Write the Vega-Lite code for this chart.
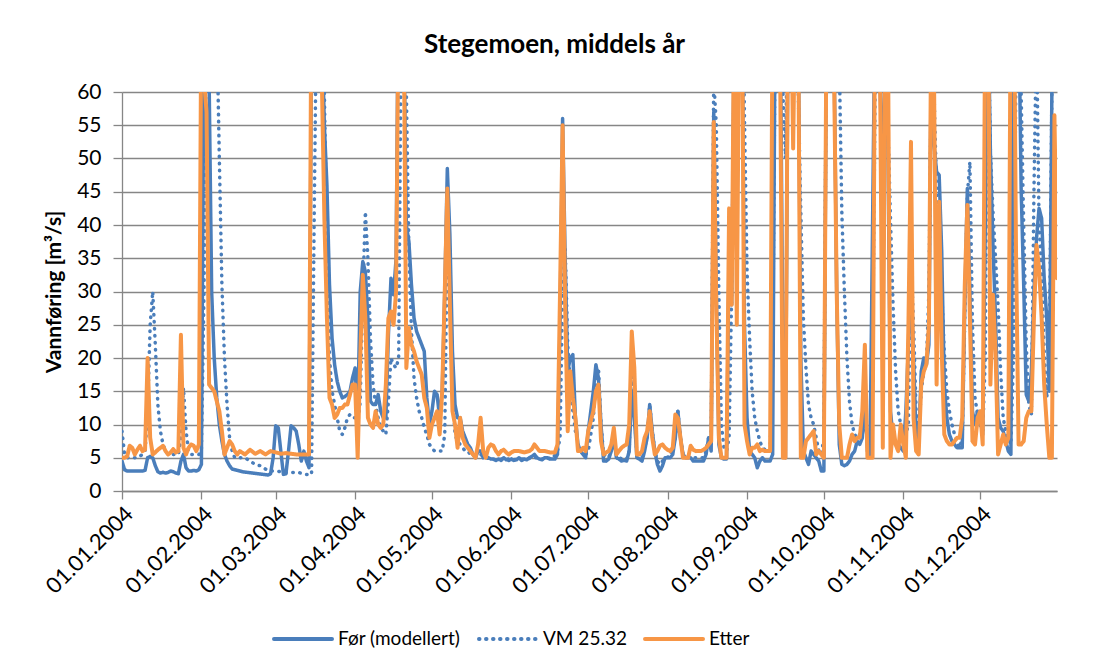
{
 "$schema": "https://vega.github.io/schema/vega-lite/v6.json",
 "width": 935,
 "height": 399,
 "autosize": {"type": "none"},
 "padding": {"left": 122, "top": 92, "right": 45, "bottom": 178},
 "background": "white",
 "config": {"font": "Lato", "view": {"stroke": null}, "axis": {"labelFont": "Lato", "titleFont": "Lato"}},
 "title": {"text": "Stegemoen, middels år", "fontSize": 26, "fontWeight": "bold", "font": "Lato", "color": "#000", "anchor": "middle", "dx": -35, "offset": 23},
 "data": {"values": [
{"s":"f","t":0,"v":4.5},{"s":"f","t":1,"v":3.2},{"s":"f","t":2,"v":3.0},{"s":"f","t":4,"v":3.0},{"s":"f","t":6,"v":3.0},{"s":"f","t":8,"v":3.0},{"s":"f","t":9,"v":3.1},{"s":"f","t":10,"v":5},{"s":"f","t":11,"v":5.2},{"s":"f","t":12,"v":5},{"s":"f","t":13,"v":3.8},{"s":"f","t":14,"v":2.9},{"s":"f","t":15,"v":2.7},{"s":"f","t":16,"v":2.8},{"s":"f","t":17,"v":2.7},{"s":"f","t":18,"v":2.8},{"s":"f","t":19,"v":3.0},{"s":"f","t":20,"v":2.9},{"s":"f","t":21,"v":2.7},{"s":"f","t":22,"v":2.6},{"s":"f","t":23,"v":4.5},{"s":"f","t":24,"v":5.5},{"s":"f","t":25,"v":3.5},{"s":"f","t":26,"v":3.0},{"s":"f","t":27,"v":3.0},{"s":"f","t":28,"v":3.1},{"s":"f","t":29,"v":3.0},{"s":"f","t":30,"v":3.2},{"s":"f","t":31,"v":4},{"s":"f","t":32,"v":70},{"s":"f","t":33,"v":80},{"s":"f","t":34,"v":62},{"s":"f","t":35,"v":30},{"s":"f","t":36,"v":20},{"s":"f","t":37,"v":14},{"s":"f","t":38,"v":10},{"s":"f","t":39,"v":7.5},{"s":"f","t":40,"v":5.5},{"s":"f","t":41,"v":4.5},{"s":"f","t":42,"v":3.8},{"s":"f","t":43,"v":3.3},{"s":"f","t":44,"v":3.2},{"s":"f","t":45,"v":3.1},{"s":"f","t":47,"v":2.9},{"s":"f","t":49,"v":2.8},{"s":"f","t":51,"v":2.7},{"s":"f","t":53,"v":2.6},{"s":"f","t":55,"v":2.5},{"s":"f","t":57,"v":2.4},{"s":"f","t":58,"v":2.6},{"s":"f","t":59,"v":5},{"s":"f","t":60,"v":9.8},{"s":"f","t":61,"v":9.5},{"s":"f","t":62,"v":6},{"s":"f","t":63,"v":2.5},{"s":"f","t":64,"v":2.6},{"s":"f","t":65,"v":6},{"s":"f","t":66,"v":9.8},{"s":"f","t":67,"v":9.5},{"s":"f","t":68,"v":9},{"s":"f","t":69,"v":7},{"s":"f","t":70,"v":4.5},{"s":"f","t":71,"v":6},{"s":"f","t":72,"v":4.5},{"s":"f","t":73,"v":3.5},{"s":"f","t":74,"v":70},{"s":"f","t":75,"v":85},{"s":"f","t":76,"v":90},{"s":"f","t":77,"v":85},{"s":"f","t":78,"v":70},{"s":"f","t":79,"v":55},{"s":"f","t":80,"v":46},{"s":"f","t":81,"v":31},{"s":"f","t":82,"v":23},{"s":"f","t":83,"v":19},{"s":"f","t":84,"v":16.5},{"s":"f","t":85,"v":15},{"s":"f","t":86,"v":14},{"s":"f","t":87,"v":14.2},{"s":"f","t":88,"v":14.5},{"s":"f","t":89,"v":15},{"s":"f","t":90,"v":17},{"s":"f","t":91,"v":18.5},{"s":"f","t":92,"v":11},{"s":"f","t":93,"v":30},{"s":"f","t":94,"v":34.5},{"s":"f","t":95,"v":33},{"s":"f","t":96,"v":26},{"s":"f","t":97,"v":13.5},{"s":"f","t":98,"v":13},{"s":"f","t":99,"v":13},{"s":"f","t":100,"v":14.5},{"s":"f","t":101,"v":12},{"s":"f","t":102,"v":11},{"s":"f","t":103,"v":11},{"s":"f","t":104,"v":23.5},{"s":"f","t":105,"v":32},{"s":"f","t":106,"v":29.5},{"s":"f","t":107,"v":35},{"s":"f","t":108,"v":80},{"s":"f","t":109,"v":85},{"s":"f","t":110,"v":70},{"s":"f","t":111,"v":40},{"s":"f","t":112,"v":37.5},{"s":"f","t":113,"v":31},{"s":"f","t":114,"v":26},{"s":"f","t":115,"v":24},{"s":"f","t":116,"v":23},{"s":"f","t":117,"v":22},{"s":"f","t":118,"v":21},{"s":"f","t":119,"v":14},{"s":"f","t":120,"v":10},{"s":"f","t":121,"v":12},{"s":"f","t":122,"v":15},{"s":"f","t":123,"v":14.5},{"s":"f","t":124,"v":11},{"s":"f","t":125,"v":15},{"s":"f","t":126,"v":30},{"s":"f","t":127,"v":48.5},{"s":"f","t":128,"v":38.5},{"s":"f","t":129,"v":21},{"s":"f","t":130,"v":13},{"s":"f","t":131,"v":11},{"s":"f","t":132,"v":11},{"s":"f","t":133,"v":9},{"s":"f","t":134,"v":8},{"s":"f","t":135,"v":7},{"s":"f","t":136,"v":6.5},{"s":"f","t":137,"v":5.5},{"s":"f","t":138,"v":5},{"s":"f","t":139,"v":6},{"s":"f","t":140,"v":6},{"s":"f","t":141,"v":5},{"s":"f","t":142,"v":5.2},{"s":"f","t":143,"v":5},{"s":"f","t":144,"v":4.8},{"s":"f","t":145,"v":4.8},{"s":"f","t":146,"v":4.6},{"s":"f","t":147,"v":4.8},{"s":"f","t":148,"v":4.6},{"s":"f","t":149,"v":5},{"s":"f","t":150,"v":4.7},{"s":"f","t":151,"v":4.6},{"s":"f","t":152,"v":4.8},{"s":"f","t":153,"v":4.6},{"s":"f","t":154,"v":4.7},{"s":"f","t":155,"v":5},{"s":"f","t":156,"v":4.6},{"s":"f","t":157,"v":4.8},{"s":"f","t":158,"v":4.7},{"s":"f","t":159,"v":5},{"s":"f","t":160,"v":5.2},{"s":"f","t":161,"v":5.5},{"s":"f","t":162,"v":5},{"s":"f","t":163,"v":4.8},{"s":"f","t":164,"v":4.7},{"s":"f","t":165,"v":5},{"s":"f","t":166,"v":5},{"s":"f","t":167,"v":4.8},{"s":"f","t":168,"v":4.8},{"s":"f","t":169,"v":4.8},{"s":"f","t":170,"v":5.5},{"s":"f","t":171,"v":25},{"s":"f","t":172,"v":56},{"s":"f","t":173,"v":35},{"s":"f","t":174,"v":18},{"s":"f","t":175,"v":20},{"s":"f","t":176,"v":20.5},{"s":"f","t":177,"v":11},{"s":"f","t":178,"v":7},{"s":"f","t":179,"v":6},{"s":"f","t":180,"v":5.5},{"s":"f","t":181,"v":5},{"s":"f","t":182,"v":9},{"s":"f","t":183,"v":12},{"s":"f","t":184,"v":15},{"s":"f","t":185,"v":19},{"s":"f","t":186,"v":17},{"s":"f","t":187,"v":10},{"s":"f","t":188,"v":4.5},{"s":"f","t":189,"v":4.5},{"s":"f","t":190,"v":4.8},{"s":"f","t":191,"v":6},{"s":"f","t":192,"v":8},{"s":"f","t":193,"v":5},{"s":"f","t":194,"v":4.8},{"s":"f","t":195,"v":4.5},{"s":"f","t":196,"v":4.6},{"s":"f","t":197,"v":4.5},{"s":"f","t":198,"v":6},{"s":"f","t":199,"v":15},{"s":"f","t":200,"v":11},{"s":"f","t":201,"v":5},{"s":"f","t":202,"v":4.8},{"s":"f","t":203,"v":4.5},{"s":"f","t":204,"v":6},{"s":"f","t":205,"v":8},{"s":"f","t":206,"v":13},{"s":"f","t":207,"v":9},{"s":"f","t":208,"v":6},{"s":"f","t":209,"v":4},{"s":"f","t":210,"v":3},{"s":"f","t":211,"v":3.8},{"s":"f","t":212,"v":5},{"s":"f","t":213,"v":5},{"s":"f","t":214,"v":5},{"s":"f","t":215,"v":5.5},{"s":"f","t":216,"v":8},{"s":"f","t":217,"v":12},{"s":"f","t":218,"v":8},{"s":"f","t":219,"v":5.5},{"s":"f","t":220,"v":5},{"s":"f","t":221,"v":5},{"s":"f","t":222,"v":5},{"s":"f","t":223,"v":4.5},{"s":"f","t":224,"v":4.5},{"s":"f","t":225,"v":4.5},{"s":"f","t":226,"v":4.5},{"s":"f","t":227,"v":4.5},{"s":"f","t":228,"v":5.5},{"s":"f","t":229,"v":8},{"s":"f","t":230,"v":6},{"s":"f","t":231,"v":57},{"s":"f","t":232,"v":30},{"s":"f","t":233,"v":7},{"s":"f","t":234,"v":5},{"s":"f","t":235,"v":4.8},{"s":"f","t":236,"v":4.8},{"s":"f","t":237,"v":35},{"s":"f","t":238,"v":28},{"s":"f","t":239,"v":70},{"s":"f","t":240,"v":40},{"s":"f","t":241,"v":70},{"s":"f","t":242,"v":75},{"s":"f","t":243,"v":25},{"s":"f","t":244,"v":11},{"s":"f","t":245,"v":6},{"s":"f","t":246,"v":5.5},{"s":"f","t":247,"v":5},{"s":"f","t":248,"v":3.5},{"s":"f","t":249,"v":4.5},{"s":"f","t":250,"v":5},{"s":"f","t":251,"v":4.5},{"s":"f","t":252,"v":4.5},{"s":"f","t":253,"v":4.5},{"s":"f","t":254,"v":5.5},{"s":"f","t":255,"v":75},{"s":"f","t":256,"v":80},{"s":"f","t":257,"v":70},{"s":"f","t":258,"v":20},{"s":"f","t":259,"v":5},{"s":"f","t":260,"v":70},{"s":"f","t":261,"v":80},{"s":"f","t":262,"v":60},{"s":"f","t":263,"v":80},{"s":"f","t":264,"v":70},{"s":"f","t":265,"v":20},{"s":"f","t":266,"v":6},{"s":"f","t":267,"v":5},{"s":"f","t":268,"v":4},{"s":"f","t":269,"v":6},{"s":"f","t":270,"v":5.5},{"s":"f","t":271,"v":5},{"s":"f","t":272,"v":4.5},{"s":"f","t":273,"v":3},{"s":"f","t":274,"v":3},{"s":"f","t":275,"v":70},{"s":"f","t":276,"v":85},{"s":"f","t":277,"v":75},{"s":"f","t":278,"v":65},{"s":"f","t":279,"v":30},{"s":"f","t":280,"v":7},{"s":"f","t":281,"v":4},{"s":"f","t":282,"v":3.8},{"s":"f","t":283,"v":4},{"s":"f","t":284,"v":4.5},{"s":"f","t":285,"v":5.5},{"s":"f","t":286,"v":6},{"s":"f","t":287,"v":7.5},{"s":"f","t":288,"v":7},{"s":"f","t":289,"v":8},{"s":"f","t":290,"v":15},{"s":"f","t":291,"v":6},{"s":"f","t":292,"v":5.5},{"s":"f","t":293,"v":40},{"s":"f","t":294,"v":75},{"s":"f","t":295,"v":80},{"s":"f","t":296,"v":60},{"s":"f","t":297,"v":45},{"s":"f","t":298,"v":70},{"s":"f","t":299,"v":52},{"s":"f","t":300,"v":12},{"s":"f","t":301,"v":8},{"s":"f","t":302,"v":7},{"s":"f","t":303,"v":7},{"s":"f","t":304,"v":6.5},{"s":"f","t":305,"v":6},{"s":"f","t":306,"v":12},{"s":"f","t":307,"v":22},{"s":"f","t":308,"v":30},{"s":"f","t":309,"v":20},{"s":"f","t":310,"v":8},{"s":"f","t":311,"v":7},{"s":"f","t":312,"v":18},{"s":"f","t":313,"v":20},{"s":"f","t":314,"v":19},{"s":"f","t":315,"v":22},{"s":"f","t":316,"v":70},{"s":"f","t":317,"v":52},{"s":"f","t":318,"v":48},{"s":"f","t":319,"v":47.5},{"s":"f","t":320,"v":36},{"s":"f","t":321,"v":16},{"s":"f","t":322,"v":11},{"s":"f","t":323,"v":8.5},{"s":"f","t":324,"v":7.5},{"s":"f","t":325,"v":7},{"s":"f","t":326,"v":6.5},{"s":"f","t":327,"v":6.5},{"s":"f","t":328,"v":6.5},{"s":"f","t":329,"v":28},{"s":"f","t":330,"v":45.5},{"s":"f","t":331,"v":30},{"s":"f","t":332,"v":12},{"s":"f","t":333,"v":10},{"s":"f","t":334,"v":12},{"s":"f","t":335,"v":11},{"s":"f","t":336,"v":8.5},{"s":"f","t":337,"v":40},{"s":"f","t":338,"v":75},{"s":"f","t":339,"v":51},{"s":"f","t":340,"v":37},{"s":"f","t":341,"v":26},{"s":"f","t":342,"v":11},{"s":"f","t":343,"v":9.5},{"s":"f","t":344,"v":9},{"s":"f","t":345,"v":7.5},{"s":"f","t":346,"v":6},{"s":"f","t":347,"v":5.5},{"s":"f","t":348,"v":70},{"s":"f","t":349,"v":80},{"s":"f","t":350,"v":75},{"s":"f","t":351,"v":45.5},{"s":"f","t":352,"v":31},{"s":"f","t":353,"v":14.5},{"s":"f","t":354,"v":13.5},{"s":"f","t":355,"v":18},{"s":"f","t":356,"v":30},{"s":"f","t":357,"v":38},{"s":"f","t":358,"v":42.5},{"s":"f","t":359,"v":41},{"s":"f","t":360,"v":32},{"s":"f","t":361,"v":26},{"s":"f","t":362,"v":15},{"s":"f","t":363,"v":60},{"s":"f","t":364,"v":75},{"s":"f","t":365,"v":62},
{"s":"v","t":0,"v":9},{"s":"v","t":1,"v":5.5},{"s":"v","t":2,"v":5},{"s":"v","t":4,"v":5},{"s":"v","t":6,"v":5},{"s":"v","t":8,"v":5.5},{"s":"v","t":9,"v":6},{"s":"v","t":10,"v":12},{"s":"v","t":11,"v":25},{"s":"v","t":12,"v":30},{"s":"v","t":13,"v":22},{"s":"v","t":14,"v":13},{"s":"v","t":15,"v":9},{"s":"v","t":16,"v":7},{"s":"v","t":17,"v":6},{"s":"v","t":18,"v":5.5},{"s":"v","t":20,"v":5.5},{"s":"v","t":22,"v":5.5},{"s":"v","t":23,"v":8},{"s":"v","t":24,"v":15.5},{"s":"v","t":25,"v":9},{"s":"v","t":26,"v":6},{"s":"v","t":27,"v":5.5},{"s":"v","t":29,"v":5.5},{"s":"v","t":30,"v":5.5},{"s":"v","t":31,"v":6},{"s":"v","t":32,"v":30},{"s":"v","t":33,"v":75},{"s":"v","t":34,"v":85},{"s":"v","t":35,"v":85},{"s":"v","t":36,"v":80},{"s":"v","t":37,"v":70},{"s":"v","t":38,"v":50},{"s":"v","t":39,"v":31},{"s":"v","t":40,"v":20},{"s":"v","t":41,"v":13},{"s":"v","t":42,"v":8},{"s":"v","t":43,"v":6},{"s":"v","t":44,"v":5},{"s":"v","t":46,"v":5},{"s":"v","t":48,"v":5},{"s":"v","t":50,"v":4.5},{"s":"v","t":52,"v":4},{"s":"v","t":54,"v":3.8},{"s":"v","t":56,"v":3.3},{"s":"v","t":58,"v":3},{"s":"v","t":60,"v":3},{"s":"v","t":62,"v":2.9},{"s":"v","t":64,"v":2.8},{"s":"v","t":66,"v":2.8},{"s":"v","t":68,"v":2.8},{"s":"v","t":70,"v":2.7},{"s":"v","t":72,"v":2.5},{"s":"v","t":74,"v":2.5},{"s":"v","t":75,"v":40},{"s":"v","t":76,"v":75},{"s":"v","t":77,"v":85},{"s":"v","t":78,"v":80},{"s":"v","t":79,"v":60},{"s":"v","t":80,"v":35},{"s":"v","t":81,"v":20},{"s":"v","t":82,"v":15},{"s":"v","t":83,"v":13},{"s":"v","t":84,"v":11},{"s":"v","t":85,"v":9},{"s":"v","t":86,"v":8.5},{"s":"v","t":87,"v":9.5},{"s":"v","t":88,"v":11},{"s":"v","t":89,"v":11.5},{"s":"v","t":90,"v":11},{"s":"v","t":91,"v":11},{"s":"v","t":92,"v":10},{"s":"v","t":93,"v":13.5},{"s":"v","t":94,"v":30},{"s":"v","t":95,"v":42},{"s":"v","t":96,"v":35},{"s":"v","t":97,"v":23},{"s":"v","t":98,"v":16},{"s":"v","t":99,"v":13},{"s":"v","t":100,"v":11},{"s":"v","t":101,"v":9.5},{"s":"v","t":102,"v":9},{"s":"v","t":103,"v":8.5},{"s":"v","t":104,"v":13.5},{"s":"v","t":105,"v":20},{"s":"v","t":106,"v":19},{"s":"v","t":107,"v":18.5},{"s":"v","t":108,"v":20},{"s":"v","t":109,"v":70},{"s":"v","t":110,"v":85},{"s":"v","t":111,"v":60},{"s":"v","t":112,"v":36},{"s":"v","t":113,"v":24},{"s":"v","t":114,"v":17},{"s":"v","t":115,"v":14},{"s":"v","t":116,"v":12},{"s":"v","t":117,"v":11},{"s":"v","t":118,"v":9.5},{"s":"v","t":119,"v":8.5},{"s":"v","t":120,"v":7},{"s":"v","t":121,"v":6.5},{"s":"v","t":122,"v":6},{"s":"v","t":123,"v":6},{"s":"v","t":124,"v":6},{"s":"v","t":125,"v":6},{"s":"v","t":126,"v":8.5},{"s":"v","t":127,"v":40},{"s":"v","t":128,"v":30},{"s":"v","t":129,"v":15},{"s":"v","t":130,"v":8.5},{"s":"v","t":131,"v":7.5},{"s":"v","t":132,"v":7},{"s":"v","t":133,"v":6.5},{"s":"v","t":134,"v":6},{"s":"v","t":135,"v":6},{"s":"v","t":136,"v":5.5},{"s":"v","t":137,"v":5.5},{"s":"v","t":138,"v":5.2},{"s":"v","t":140,"v":5.5},{"s":"v","t":142,"v":5},{"s":"v","t":144,"v":4.8},{"s":"v","t":146,"v":4.7},{"s":"v","t":148,"v":4.8},{"s":"v","t":150,"v":4.8},{"s":"v","t":152,"v":4.8},{"s":"v","t":154,"v":4.7},{"s":"v","t":156,"v":4.8},{"s":"v","t":158,"v":4.8},{"s":"v","t":160,"v":5},{"s":"v","t":162,"v":5},{"s":"v","t":164,"v":4.8},{"s":"v","t":166,"v":5},{"s":"v","t":168,"v":4.8},{"s":"v","t":170,"v":6},{"s":"v","t":171,"v":8},{"s":"v","t":172,"v":30},{"s":"v","t":173,"v":36.5},{"s":"v","t":174,"v":22},{"s":"v","t":175,"v":16},{"s":"v","t":176,"v":12},{"s":"v","t":177,"v":9},{"s":"v","t":178,"v":7},{"s":"v","t":179,"v":6},{"s":"v","t":180,"v":5.5},{"s":"v","t":181,"v":5.5},{"s":"v","t":182,"v":6},{"s":"v","t":183,"v":8.5},{"s":"v","t":184,"v":11},{"s":"v","t":185,"v":16},{"s":"v","t":186,"v":18.5},{"s":"v","t":187,"v":10},{"s":"v","t":188,"v":5.5},{"s":"v","t":190,"v":5},{"s":"v","t":192,"v":7.5},{"s":"v","t":193,"v":5.5},{"s":"v","t":195,"v":4.8},{"s":"v","t":197,"v":4.8},{"s":"v","t":198,"v":6},{"s":"v","t":199,"v":21},{"s":"v","t":200,"v":12},{"s":"v","t":201,"v":5.5},{"s":"v","t":203,"v":5},{"s":"v","t":205,"v":8},{"s":"v","t":206,"v":13},{"s":"v","t":207,"v":9},{"s":"v","t":208,"v":6},{"s":"v","t":209,"v":4.5},{"s":"v","t":210,"v":4},{"s":"v","t":212,"v":5},{"s":"v","t":214,"v":5.2},{"s":"v","t":216,"v":8},{"s":"v","t":217,"v":12},{"s":"v","t":218,"v":8},{"s":"v","t":219,"v":5.5},{"s":"v","t":221,"v":5.2},{"s":"v","t":223,"v":5},{"s":"v","t":225,"v":5},{"s":"v","t":227,"v":5},{"s":"v","t":228,"v":6},{"s":"v","t":229,"v":8},{"s":"v","t":230,"v":7},{"s":"v","t":231,"v":62},{"s":"v","t":232,"v":55},{"s":"v","t":233,"v":30},{"s":"v","t":234,"v":10},{"s":"v","t":235,"v":6.5},{"s":"v","t":236,"v":6},{"s":"v","t":237,"v":8},{"s":"v","t":238,"v":30},{"s":"v","t":239,"v":65},{"s":"v","t":240,"v":75},{"s":"v","t":241,"v":80},{"s":"v","t":242,"v":85},{"s":"v","t":243,"v":56},{"s":"v","t":244,"v":33},{"s":"v","t":245,"v":23},{"s":"v","t":246,"v":15},{"s":"v","t":247,"v":11},{"s":"v","t":248,"v":9},{"s":"v","t":249,"v":7.5},{"s":"v","t":250,"v":6.5},{"s":"v","t":251,"v":6.2},{"s":"v","t":252,"v":6},{"s":"v","t":253,"v":6},{"s":"v","t":254,"v":20},{"s":"v","t":255,"v":70},{"s":"v","t":256,"v":85},{"s":"v","t":257,"v":80},{"s":"v","t":258,"v":60},{"s":"v","t":259,"v":50},{"s":"v","t":260,"v":75},{"s":"v","t":261,"v":85},{"s":"v","t":262,"v":85},{"s":"v","t":263,"v":80},{"s":"v","t":264,"v":60},{"s":"v","t":265,"v":42},{"s":"v","t":266,"v":26},{"s":"v","t":267,"v":18.5},{"s":"v","t":268,"v":13},{"s":"v","t":269,"v":11},{"s":"v","t":270,"v":10},{"s":"v","t":271,"v":8},{"s":"v","t":272,"v":6},{"s":"v","t":273,"v":5.5},{"s":"v","t":274,"v":8},{"s":"v","t":275,"v":70},{"s":"v","t":276,"v":85},{"s":"v","t":277,"v":85},{"s":"v","t":278,"v":80},{"s":"v","t":279,"v":80},{"s":"v","t":280,"v":65},{"s":"v","t":281,"v":42},{"s":"v","t":282,"v":30},{"s":"v","t":283,"v":20},{"s":"v","t":284,"v":13.5},{"s":"v","t":285,"v":10},{"s":"v","t":286,"v":8.5},{"s":"v","t":287,"v":8},{"s":"v","t":288,"v":8.5},{"s":"v","t":289,"v":8.5},{"s":"v","t":290,"v":10},{"s":"v","t":291,"v":8},{"s":"v","t":292,"v":7},{"s":"v","t":293,"v":20},{"s":"v","t":294,"v":60},{"s":"v","t":295,"v":80},{"s":"v","t":296,"v":85},{"s":"v","t":297,"v":85},{"s":"v","t":298,"v":80},{"s":"v","t":299,"v":55},{"s":"v","t":300,"v":41},{"s":"v","t":301,"v":28},{"s":"v","t":302,"v":18},{"s":"v","t":303,"v":12},{"s":"v","t":304,"v":10},{"s":"v","t":305,"v":9},{"s":"v","t":306,"v":8.5},{"s":"v","t":307,"v":10},{"s":"v","t":308,"v":35},{"s":"v","t":309,"v":25},{"s":"v","t":310,"v":12},{"s":"v","t":311,"v":9},{"s":"v","t":312,"v":15},{"s":"v","t":313,"v":18},{"s":"v","t":314,"v":19},{"s":"v","t":315,"v":30},{"s":"v","t":316,"v":65},{"s":"v","t":317,"v":60},{"s":"v","t":318,"v":45},{"s":"v","t":319,"v":38},{"s":"v","t":320,"v":30},{"s":"v","t":321,"v":21},{"s":"v","t":322,"v":15},{"s":"v","t":323,"v":12},{"s":"v","t":324,"v":10},{"s":"v","t":325,"v":8.5},{"s":"v","t":326,"v":7.5},{"s":"v","t":327,"v":6.5},{"s":"v","t":328,"v":8},{"s":"v","t":329,"v":26},{"s":"v","t":330,"v":44.5},{"s":"v","t":331,"v":49.5},{"s":"v","t":332,"v":25},{"s":"v","t":333,"v":14},{"s":"v","t":334,"v":11.5},{"s":"v","t":335,"v":10},{"s":"v","t":336,"v":8.5},{"s":"v","t":337,"v":20},{"s":"v","t":338,"v":75},{"s":"v","t":339,"v":51},{"s":"v","t":340,"v":42},{"s":"v","t":341,"v":35},{"s":"v","t":342,"v":28},{"s":"v","t":343,"v":18},{"s":"v","t":344,"v":11},{"s":"v","t":345,"v":9},{"s":"v","t":346,"v":8},{"s":"v","t":347,"v":7},{"s":"v","t":348,"v":20},{"s":"v","t":349,"v":65},{"s":"v","t":350,"v":80},{"s":"v","t":351,"v":60},{"s":"v","t":352,"v":40},{"s":"v","t":353,"v":22},{"s":"v","t":354,"v":13},{"s":"v","t":355,"v":11.5},{"s":"v","t":356,"v":45},{"s":"v","t":357,"v":70},{"s":"v","t":358,"v":40},{"s":"v","t":359,"v":33},{"s":"v","t":360,"v":21},{"s":"v","t":361,"v":14},{"s":"v","t":362,"v":20},{"s":"v","t":363,"v":60},{"s":"v","t":364,"v":80},{"s":"v","t":365,"v":80},
{"s":"e","t":0,"v":5},{"s":"e","t":1,"v":5},{"s":"e","t":2,"v":5.2},{"s":"e","t":3,"v":6.8},{"s":"e","t":4,"v":6.5},{"s":"e","t":5,"v":5.5},{"s":"e","t":6,"v":6.2},{"s":"e","t":7,"v":6.8},{"s":"e","t":8,"v":6},{"s":"e","t":9,"v":6.2},{"s":"e","t":10,"v":20},{"s":"e","t":11,"v":8},{"s":"e","t":12,"v":5.5},{"s":"e","t":13,"v":5.8},{"s":"e","t":14,"v":6.2},{"s":"e","t":15,"v":6.5},{"s":"e","t":16,"v":6.8},{"s":"e","t":17,"v":6},{"s":"e","t":18,"v":5.5},{"s":"e","t":19,"v":5.8},{"s":"e","t":20,"v":6.3},{"s":"e","t":21,"v":5.8},{"s":"e","t":22,"v":6},{"s":"e","t":23,"v":23.5},{"s":"e","t":24,"v":6.5},{"s":"e","t":25,"v":5.5},{"s":"e","t":26,"v":6.5},{"s":"e","t":27,"v":7},{"s":"e","t":28,"v":6.8},{"s":"e","t":29,"v":6},{"s":"e","t":30,"v":7},{"s":"e","t":31,"v":75},{"s":"e","t":32,"v":62},{"s":"e","t":33,"v":57},{"s":"e","t":34,"v":16},{"s":"e","t":35,"v":15.5},{"s":"e","t":36,"v":15},{"s":"e","t":37,"v":13.5},{"s":"e","t":38,"v":12},{"s":"e","t":39,"v":9},{"s":"e","t":40,"v":5.5},{"s":"e","t":41,"v":6.5},{"s":"e","t":42,"v":7.5},{"s":"e","t":43,"v":7},{"s":"e","t":44,"v":6},{"s":"e","t":45,"v":5.5},{"s":"e","t":46,"v":6},{"s":"e","t":48,"v":5.5},{"s":"e","t":50,"v":6.2},{"s":"e","t":52,"v":5.6},{"s":"e","t":54,"v":6},{"s":"e","t":56,"v":5.5},{"s":"e","t":58,"v":6},{"s":"e","t":60,"v":5.8},{"s":"e","t":62,"v":5.6},{"s":"e","t":64,"v":5.7},{"s":"e","t":66,"v":5.6},{"s":"e","t":68,"v":5.5},{"s":"e","t":70,"v":5.5},{"s":"e","t":72,"v":5.5},{"s":"e","t":73,"v":5.5},{"s":"e","t":74,"v":80},{"s":"e","t":75,"v":90},{"s":"e","t":76,"v":85},{"s":"e","t":77,"v":75},{"s":"e","t":78,"v":62},{"s":"e","t":79,"v":41},{"s":"e","t":80,"v":26},{"s":"e","t":81,"v":14},{"s":"e","t":82,"v":13},{"s":"e","t":83,"v":11},{"s":"e","t":84,"v":11.5},{"s":"e","t":85,"v":12.5},{"s":"e","t":86,"v":12.5},{"s":"e","t":87,"v":13},{"s":"e","t":88,"v":13},{"s":"e","t":89,"v":14.5},{"s":"e","t":90,"v":16},{"s":"e","t":91,"v":16},{"s":"e","t":92,"v":5},{"s":"e","t":93,"v":20},{"s":"e","t":94,"v":32.5},{"s":"e","t":95,"v":26},{"s":"e","t":96,"v":11},{"s":"e","t":97,"v":10},{"s":"e","t":98,"v":9.5},{"s":"e","t":99,"v":12},{"s":"e","t":100,"v":10},{"s":"e","t":101,"v":9.5},{"s":"e","t":102,"v":10},{"s":"e","t":103,"v":16},{"s":"e","t":104,"v":26},{"s":"e","t":105,"v":27},{"s":"e","t":106,"v":25},{"s":"e","t":107,"v":30},{"s":"e","t":108,"v":75},{"s":"e","t":109,"v":80},{"s":"e","t":110,"v":70},{"s":"e","t":111,"v":18.5},{"s":"e","t":112,"v":24.5},{"s":"e","t":113,"v":22},{"s":"e","t":114,"v":21},{"s":"e","t":115,"v":19.5},{"s":"e","t":116,"v":18.5},{"s":"e","t":117,"v":17.5},{"s":"e","t":118,"v":14},{"s":"e","t":119,"v":12.5},{"s":"e","t":120,"v":8},{"s":"e","t":121,"v":10},{"s":"e","t":122,"v":11},{"s":"e","t":123,"v":12},{"s":"e","t":124,"v":8.5},{"s":"e","t":125,"v":15},{"s":"e","t":126,"v":30},{"s":"e","t":127,"v":45.5},{"s":"e","t":128,"v":28},{"s":"e","t":129,"v":12},{"s":"e","t":130,"v":10},{"s":"e","t":131,"v":6.5},{"s":"e","t":132,"v":11},{"s":"e","t":133,"v":8},{"s":"e","t":134,"v":7},{"s":"e","t":135,"v":6.5},{"s":"e","t":136,"v":6},{"s":"e","t":137,"v":5.5},{"s":"e","t":138,"v":5},{"s":"e","t":139,"v":7},{"s":"e","t":140,"v":11},{"s":"e","t":141,"v":6},{"s":"e","t":142,"v":5},{"s":"e","t":143,"v":6.5},{"s":"e","t":144,"v":7},{"s":"e","t":145,"v":6.8},{"s":"e","t":146,"v":6},{"s":"e","t":147,"v":5.5},{"s":"e","t":148,"v":6},{"s":"e","t":149,"v":6.2},{"s":"e","t":150,"v":5.8},{"s":"e","t":151,"v":5.5},{"s":"e","t":152,"v":5.8},{"s":"e","t":153,"v":6},{"s":"e","t":155,"v":6},{"s":"e","t":157,"v":5.8},{"s":"e","t":159,"v":6},{"s":"e","t":160,"v":6.3},{"s":"e","t":161,"v":7},{"s":"e","t":162,"v":6.5},{"s":"e","t":163,"v":6},{"s":"e","t":165,"v":6},{"s":"e","t":167,"v":5.8},{"s":"e","t":169,"v":5.8},{"s":"e","t":170,"v":7},{"s":"e","t":171,"v":30},{"s":"e","t":172,"v":55},{"s":"e","t":173,"v":28},{"s":"e","t":174,"v":9},{"s":"e","t":175,"v":18},{"s":"e","t":176,"v":14},{"s":"e","t":177,"v":11},{"s":"e","t":178,"v":6},{"s":"e","t":179,"v":6},{"s":"e","t":180,"v":6.5},{"s":"e","t":181,"v":6},{"s":"e","t":182,"v":9},{"s":"e","t":183,"v":10.5},{"s":"e","t":184,"v":12},{"s":"e","t":185,"v":15},{"s":"e","t":186,"v":16},{"s":"e","t":187,"v":7.5},{"s":"e","t":188,"v":5.5},{"s":"e","t":189,"v":5.8},{"s":"e","t":190,"v":6},{"s":"e","t":191,"v":7},{"s":"e","t":192,"v":9.5},{"s":"e","t":193,"v":5.5},{"s":"e","t":194,"v":6},{"s":"e","t":195,"v":6.5},{"s":"e","t":196,"v":6.8},{"s":"e","t":197,"v":7},{"s":"e","t":198,"v":10},{"s":"e","t":199,"v":24},{"s":"e","t":200,"v":18.5},{"s":"e","t":201,"v":5.5},{"s":"e","t":202,"v":5.5},{"s":"e","t":203,"v":6},{"s":"e","t":204,"v":8},{"s":"e","t":205,"v":9},{"s":"e","t":206,"v":12},{"s":"e","t":207,"v":8},{"s":"e","t":208,"v":5.5},{"s":"e","t":209,"v":6},{"s":"e","t":210,"v":6.8},{"s":"e","t":211,"v":7},{"s":"e","t":212,"v":6.5},{"s":"e","t":213,"v":6.2},{"s":"e","t":214,"v":6},{"s":"e","t":215,"v":6.5},{"s":"e","t":216,"v":11.5},{"s":"e","t":217,"v":11},{"s":"e","t":218,"v":8},{"s":"e","t":219,"v":5},{"s":"e","t":220,"v":5},{"s":"e","t":221,"v":5},{"s":"e","t":222,"v":6.8},{"s":"e","t":223,"v":6.2},{"s":"e","t":224,"v":6},{"s":"e","t":225,"v":6},{"s":"e","t":226,"v":6},{"s":"e","t":227,"v":6.2},{"s":"e","t":228,"v":6.5},{"s":"e","t":229,"v":7},{"s":"e","t":230,"v":7.5},{"s":"e","t":231,"v":55.5},{"s":"e","t":232,"v":28},{"s":"e","t":233,"v":8},{"s":"e","t":234,"v":5},{"s":"e","t":235,"v":5},{"s":"e","t":236,"v":5},{"s":"e","t":237,"v":42.5},{"s":"e","t":238,"v":28},{"s":"e","t":239,"v":75},{"s":"e","t":240,"v":25},{"s":"e","t":241,"v":75},{"s":"e","t":242,"v":80},{"s":"e","t":243,"v":10},{"s":"e","t":244,"v":7.5},{"s":"e","t":245,"v":5.5},{"s":"e","t":246,"v":6.5},{"s":"e","t":247,"v":6.5},{"s":"e","t":248,"v":7},{"s":"e","t":249,"v":6},{"s":"e","t":250,"v":6.2},{"s":"e","t":251,"v":6},{"s":"e","t":252,"v":6},{"s":"e","t":253,"v":6},{"s":"e","t":254,"v":75},{"s":"e","t":255,"v":85},{"s":"e","t":256,"v":80},{"s":"e","t":257,"v":60},{"s":"e","t":258,"v":5},{"s":"e","t":259,"v":5},{"s":"e","t":260,"v":75},{"s":"e","t":261,"v":80},{"s":"e","t":262,"v":51.5},{"s":"e","t":263,"v":80},{"s":"e","t":264,"v":70},{"s":"e","t":265,"v":5},{"s":"e","t":266,"v":5},{"s":"e","t":267,"v":7.5},{"s":"e","t":268,"v":8},{"s":"e","t":269,"v":8.5},{"s":"e","t":270,"v":9},{"s":"e","t":271,"v":5.5},{"s":"e","t":272,"v":6},{"s":"e","t":273,"v":5.5},{"s":"e","t":274,"v":5},{"s":"e","t":275,"v":70},{"s":"e","t":276,"v":80},{"s":"e","t":277,"v":75},{"s":"e","t":278,"v":62},{"s":"e","t":279,"v":30},{"s":"e","t":280,"v":10},{"s":"e","t":281,"v":5},{"s":"e","t":282,"v":5},{"s":"e","t":283,"v":5},{"s":"e","t":284,"v":7},{"s":"e","t":285,"v":8.5},{"s":"e","t":286,"v":7.5},{"s":"e","t":287,"v":8},{"s":"e","t":288,"v":8},{"s":"e","t":289,"v":12},{"s":"e","t":290,"v":22},{"s":"e","t":291,"v":5},{"s":"e","t":292,"v":5},{"s":"e","t":293,"v":5},{"s":"e","t":294,"v":75},{"s":"e","t":295,"v":80},{"s":"e","t":296,"v":60},{"s":"e","t":297,"v":6.5},{"s":"e","t":298,"v":75},{"s":"e","t":299,"v":70},{"s":"e","t":300,"v":5},{"s":"e","t":301,"v":10},{"s":"e","t":302,"v":7},{"s":"e","t":303,"v":6},{"s":"e","t":304,"v":10},{"s":"e","t":305,"v":7},{"s":"e","t":306,"v":5},{"s":"e","t":307,"v":25},{"s":"e","t":308,"v":52.5},{"s":"e","t":309,"v":11},{"s":"e","t":310,"v":6},{"s":"e","t":311,"v":5.5},{"s":"e","t":312,"v":16},{"s":"e","t":313,"v":18},{"s":"e","t":314,"v":19},{"s":"e","t":315,"v":25},{"s":"e","t":316,"v":75},{"s":"e","t":317,"v":62},{"s":"e","t":318,"v":16},{"s":"e","t":319,"v":43.5},{"s":"e","t":320,"v":21},{"s":"e","t":321,"v":8.5},{"s":"e","t":322,"v":7.5},{"s":"e","t":323,"v":7},{"s":"e","t":324,"v":7},{"s":"e","t":325,"v":7.5},{"s":"e","t":326,"v":8},{"s":"e","t":327,"v":8},{"s":"e","t":328,"v":11},{"s":"e","t":329,"v":31},{"s":"e","t":330,"v":43},{"s":"e","t":331,"v":26},{"s":"e","t":332,"v":7.5},{"s":"e","t":333,"v":7},{"s":"e","t":334,"v":11},{"s":"e","t":335,"v":12},{"s":"e","t":336,"v":7},{"s":"e","t":337,"v":75},{"s":"e","t":338,"v":85},{"s":"e","t":339,"v":16},{"s":"e","t":340,"v":29.5},{"s":"e","t":341,"v":21},{"s":"e","t":342,"v":5.5},{"s":"e","t":343,"v":7},{"s":"e","t":344,"v":8.5},{"s":"e","t":345,"v":7},{"s":"e","t":346,"v":8},{"s":"e","t":347,"v":80},{"s":"e","t":348,"v":85},{"s":"e","t":349,"v":36},{"s":"e","t":350,"v":7},{"s":"e","t":351,"v":7},{"s":"e","t":352,"v":7.5},{"s":"e","t":353,"v":11},{"s":"e","t":354,"v":12},{"s":"e","t":355,"v":12},{"s":"e","t":356,"v":26},{"s":"e","t":357,"v":37},{"s":"e","t":358,"v":33.5},{"s":"e","t":359,"v":26},{"s":"e","t":360,"v":16},{"s":"e","t":361,"v":10},{"s":"e","t":362,"v":5},{"s":"e","t":363,"v":5},{"s":"e","t":364,"v":56.5},{"s":"e","t":365,"v":32}
 ]},
 "encoding": {
  "x": {"field": "t", "type": "quantitative",
   "scale": {"domain": [0, 365], "nice": false, "zero": false},
   "axis": {"values": [0, 31, 60, 91, 121, 152, 182, 213, 244, 274, 305, 335],
    "labelExpr": "timeFormat(datetime(2004, 0, datum.value + 1), '%d.%m.%Y')",
    "labelAngle": -45, "labelFontSize": 22, "labelColor": "#000", "labelPadding": 4,
    "labelOverlap": false, "labelFlush": false,
    "tickSize": 8, "tickColor": "#868686", "tickWidth": 1.3,
    "domainColor": "#868686", "domainWidth": 1.3, "grid": false, "title": null}},
  "y": {"field": "v", "type": "quantitative",
   "scale": {"domain": [0, 60], "nice": false},
   "axis": {"values": [0, 5, 10, 15, 20, 25, 30, 35, 40, 45, 50, 55, 60],
    "grid": true, "gridColor": "#868686", "gridWidth": 1.3,
    "domainColor": "#868686", "domainWidth": 1.3,
    "tickColor": "#868686", "tickWidth": 1.3, "tickSize": 9,
    "labelPadding": 12, "labelFontSize": 21, "labelColor": "#000",
    "title": "Vannføring [m³/s]", "titleFontSize": 21, "titleFontWeight": "bold",
    "titleColor": "#000", "titlePadding": 12}},
  "color": {"field": "s", "type": "nominal",
   "scale": {"domain": ["f", "v", "e"], "range": ["#4A7EBB", "#4A7EBB", "#F79646"]},
   "legend": {"title": null, "orient": "none", "legendX": 150, "legendY": 516, "direction": "horizontal",
    "symbolType": "stroke", "symbolSize": 3364, "symbolStrokeWidth": 4,
    "labelFontSize": 19, "labelFont": "Lato", "labelColor": "#000", "labelOffset": 4, "labelLimit": 300,
    "columnPadding": 10,
    "labelExpr": "datum.label === 'f' ? 'Før (modellert)' : datum.label === 'v' ? 'VM 25.32' : 'Etter'",
    "encode": {"symbols": {"update": {"strokeCap": {"value": "round"}}}}}},
  "strokeDash": {"field": "s", "type": "nominal",
   "scale": {"domain": ["f", "v", "e"], "range": [[1, 0], [0.5, 6.5], [1, 0]]},
   "legend": {"title": null, "orient": "none", "legendX": 150, "legendY": 516, "direction": "horizontal",
    "symbolType": "stroke", "symbolSize": 3364, "symbolStrokeWidth": 4,
    "labelFontSize": 19, "labelFont": "Lato", "labelColor": "#000", "labelOffset": 4, "labelLimit": 300,
    "columnPadding": 10,
    "labelExpr": "datum.label === 'f' ? 'Før (modellert)' : datum.label === 'v' ? 'VM 25.32' : 'Etter'",
    "encode": {"symbols": {"update": {"strokeCap": {"value": "round"}}}}}}
 },
 "layer": [
  {"transform": [{"filter": "datum.s === 'f'"}], "mark": {"type": "line", "strokeWidth": 3.5, "clip": true, "strokeJoin": "round", "strokeCap": "round"}},
  {"transform": [{"filter": "datum.s === 'v'"}], "mark": {"type": "line", "strokeWidth": 3.5, "clip": true, "strokeJoin": "round", "strokeCap": "round"}},
  {"transform": [{"filter": "datum.s === 'e'"}], "mark": {"type": "line", "strokeWidth": 4, "clip": true, "strokeJoin": "round", "strokeCap": "round"}}
 ]
}
